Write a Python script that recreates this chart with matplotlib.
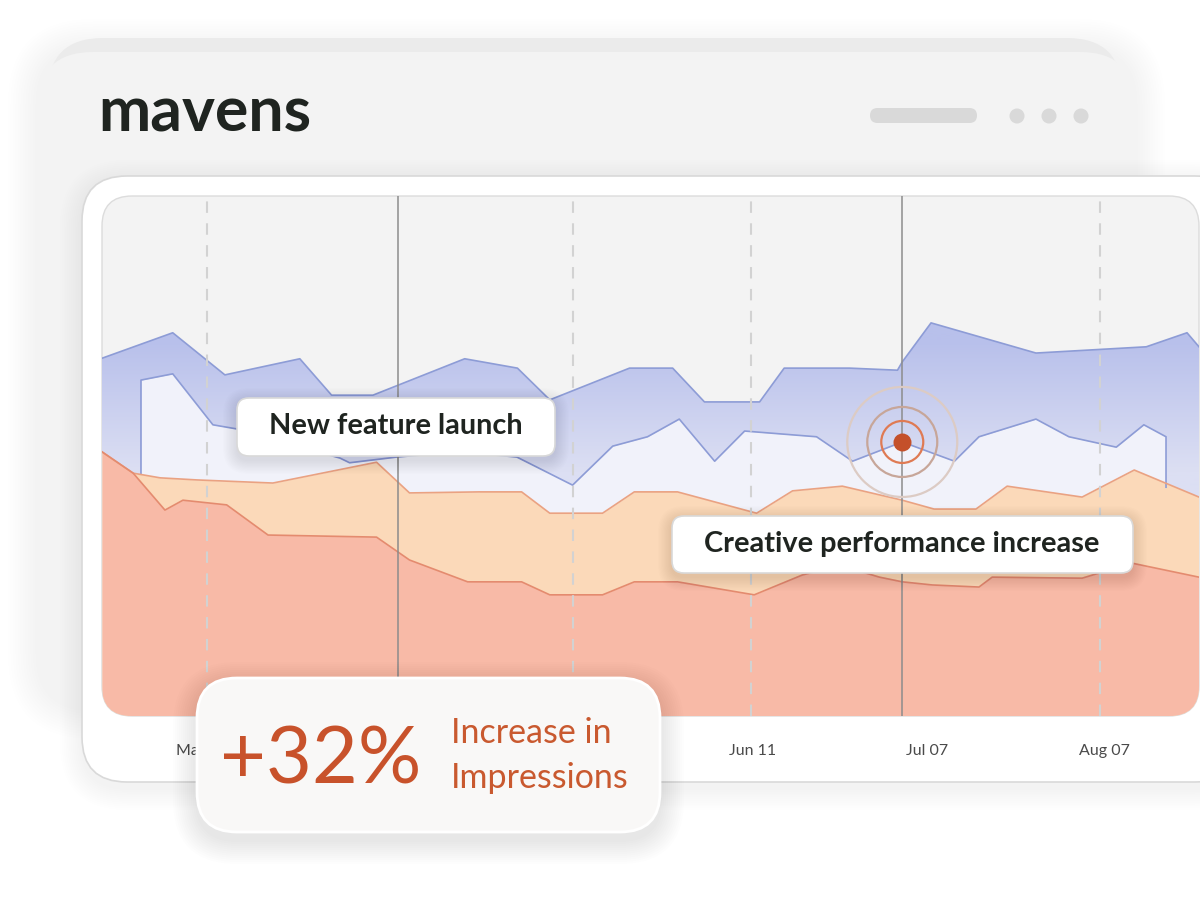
import numpy as np
import matplotlib.pyplot as plt
from matplotlib.patches import FancyBboxPatch, Polygon, Circle
from matplotlib.colors import to_rgb

# ---- data (x = day index, y = impressions index 0-100) ----
upper_x = [0, 11.8, 20.5, 33, 38.3, 45.2, 60.5, 69.3, 74.7, 88, 95.2, 100.5, 109.7,
           113.8, 124.7, 132.7, 133.5, 138.3, 155.8, 174.2, 181, 183]
upper_y = [68.8, 73.7, 65.6, 68.7, 61.7, 61.7, 68.7, 66.9, 60.8, 66.9, 66.9, 60.4, 60.4,
           66.9, 66.9, 66.5, 68.1, 75.6, 69.8, 71.0, 73.7, 71.0]

lower_x = [6.5, 6.5, 11.8, 18.5, 22.5, 31.3, 39.7, 41.3, 49.2, 59.7, 69.2, 78.5, 85.2,
           91, 96.3, 102.2, 107.2, 119.2, 125.2, 133.5, 142.2, 146.3, 155.8, 161.3,
           169.2, 173.8, 177.5, 177.5]
lower_y = [46.7, 64.6, 65.8, 56.0, 55.2, 52.3, 49.6, 48.7, 49.8, 50.8, 49.8, 44.4, 51.9,
           53.7, 57.1, 49.0, 54.8, 53.7, 49.0, 52.7, 49.0, 53.7, 57.1, 53.7,
           51.7, 56.0, 53.7, 44.0]

peach_x = [0, 5.2, 9.7, 15.8, 28.5, 45.8, 51.3, 63, 70, 74.7, 83.5, 88.8, 96, 109.2,
           115.2, 123.5, 133.5, 138.8, 145.8, 151, 163.5, 172.2, 183]
peach_y = [50.8, 46.7, 45.8, 45.4, 44.8, 48.8, 42.9, 43.1, 43.1, 39.0, 39.0, 43.1, 43.1,
           39.0, 43.3, 44.2, 41.5, 39.8, 39.8, 44.2, 42.1, 47.3, 42.1]

salmon_x = [0, 5.2, 10.5, 13.5, 20.8, 27.7, 45.8, 51.3, 61, 70, 74.7, 83.5, 88.8, 96,
            108.8, 116.8, 123, 129.7, 133.5, 138.5, 146.3, 148.5, 163.5, 171.8, 183]
salmon_y = [50.8, 46.7, 39.6, 41.5, 40.6, 34.8, 34.4, 30.0, 25.8, 25.8, 23.3, 23.3, 25.8,
            25.8, 23.3, 27.1, 29.0, 26.7, 25.8, 25.2, 24.8, 26.7, 26.5, 29.4, 26.7]

dashed_days = [17.5, 78.5, 108.2, 166.5]
solid_days = [49.3, 133.5]
tick_days = [16.6, 108.5, 137.7, 167.2]
tick_labels = ['Mar 15', 'Jun 11', 'Jul 07', 'Aug 07']
highlight = (133.5, 52.7)

W, H = 1200, 905
fig = plt.figure(figsize=(12, 9.05), dpi=100, facecolor='white')

bg = fig.add_axes([0, 0, 1, 1], zorder=0)
bg.set_xlim(0, W)
bg.set_ylim(H, 0)
bg.axis('off')


def rbox(a, x0, y0, x1, y1, r, fc, ec='none', lw=0, z=1, alpha=1.0):
    p = FancyBboxPatch((x0, y0), x1 - x0, y1 - y0,
                       boxstyle=f'round,pad=0,rounding_size={r}',
                       fc=fc, ec=ec, lw=lw, zorder=z, alpha=alpha)
    a.add_patch(p)
    return p


def shadow(a, x0, y0, x1, y1, r, spread=20, dy=6, z=0.5, strength=0.06, n=12):
    for i in range(n):
        g = spread * (i + 1) / n
        rbox(a, x0 - g, y0 - g + dy, x1 + g, y1 + g + dy, r + g, fc='#000000',
             z=z, alpha=strength / n)


# back cards
shadow(bg, 38, 45, 1135, 705, 55, spread=30, dy=4, strength=0.04)
rbox(bg, 48, 38, 1122, 690, 55, fc='#ebebeb', z=1)
rbox(bg, 38, 52, 1135, 705, 55, fc='#f3f3f3', z=1.1)
bg.text(98, 131, 'mavens', family=['Lato', 'DejaVu Sans'], fontsize=45,
        fontweight='bold', color='#1f2420', ha='left', va='baseline', zorder=2)
rbox(bg, 870, 108, 977, 123, 7.5, fc='#d9d9d9', z=2)
for cx in (1017, 1049, 1081):
    bg.add_patch(Circle((cx, 116), 7.5, fc='#d9d9d9', ec='none', zorder=2))

# chart card
shadow(bg, 82, 176, 1240, 782, 45, spread=22, dy=6, z=2, strength=0.06)
rbox(bg, 82, 176, 1240, 782, 45, fc='white', ec='#d9d9d9', lw=1.2, z=3)
plot_area = rbox(bg, 102, 196, 1199, 716, 30, fc='#f3f3f3', ec='#dcdcdc', lw=1, z=4)

# ---- chart ----
ax = fig.add_axes([102 / W, 1 - 716 / H, 1097 / W, 520 / H], zorder=1)
ax.patch.set_alpha(0)
for s in ax.spines.values():
    s.set_visible(False)

clipped = []
blue_poly = Polygon(np.column_stack([np.r_[upper_x, peach_x[::-1]],
                                     np.r_[upper_y, peach_y[::-1]]]),
                    closed=True, fc='none', ec='none')
ax.add_patch(blue_poly)
yy = np.linspace(0, 100, 400)
t = np.clip((yy - 47) / (72 - 47), 0, 1)[:, None]
light, dark = np.array(to_rgb('#dcdff3')), np.array(to_rgb('#b8c0eb'))
grad = (light * (1 - t) + dark * t)[:, None, :]
im = ax.imshow(grad, extent=[0, 183, 0, 100], origin='lower', aspect='auto', zorder=1)
im.set_clip_path(blue_poly)

clipped.append(ax.fill_between(lower_x, lower_y, 0, color='#f1f2fa', lw=0, zorder=2))
clipped.append(ax.fill_between(peach_x, peach_y, 0, color='#fbd9b9', lw=0, zorder=3))
clipped.append(ax.fill_between(salmon_x, salmon_y, 0, color='#f8baa7', lw=0, zorder=4))

clipped += ax.plot(upper_x, upper_y, color='#8d9cd6', lw=1.2, zorder=5)
clipped += ax.plot(lower_x, lower_y, color='#8d9cd6', lw=1.2, zorder=5)
clipped += ax.plot(peach_x, peach_y, color='#eaa282', lw=1.2, zorder=5)
clipped += ax.plot(salmon_x, salmon_y, color='#e48b6f', lw=1.2, zorder=5)

for d in dashed_days:
    clipped.append(ax.axvline(d, color='#d2d2d2', lw=1.5, ls=(0, (5.5, 5)), zorder=6))
for d in solid_days:
    clipped.append(ax.axvline(d, color='#8c8c8c', lw=1.1, zorder=6))

for a in clipped:
    a.set_clip_path(plot_area)

hx, hy = highlight
ax.scatter([hx], [hy], s=6273, facecolors='none', edgecolors='#dccbc4', lw=1.6, zorder=7)
ax.scatter([hx], [hy], s=2540, facecolors='none', edgecolors='#c7a699', lw=1.6, zorder=7)
ax.scatter([hx], [hy], s=914, facecolors='none', edgecolors='#df7a53', lw=1.6, zorder=7)
ax.scatter([hx], [hy], s=168, color='#c4502a', lw=0, zorder=8)

ax.set_xlim(0, 183)
ax.set_ylim(0, 100)
ax.set_yticks([])
ax.set_xticks(tick_days, tick_labels)
ax.tick_params(axis='x', length=0, pad=20, labelsize=11.5, labelcolor='#4a4a4a')
for lab in ax.get_xticklabels():
    lab.set_family(['Lato', 'DejaVu Sans'])

# ---- foreground callouts ----
fg = fig.add_axes([0, 0, 1, 1], zorder=3)
fg.set_xlim(0, W)
fg.set_ylim(H, 0)
fg.axis('off')

shadow(fg, 237, 398, 555, 456, 12, spread=14, dy=4, strength=0.08)
rbox(fg, 237, 398, 555, 456, 12, fc='white', ec='#d9d9d9', lw=1.2, z=2)
fg.text(396, 426, 'New feature launch', family=['Lato', 'DejaVu Sans'], fontsize=20.8,
        fontweight='bold', color='#1f2420', ha='center', va='center', zorder=3)

shadow(fg, 672, 516, 1133, 573, 12, spread=14, dy=4, strength=0.08)
rbox(fg, 672, 516, 1133, 573, 12, fc='white', ec='#d9d9d9', lw=1.2, z=2)
fg.text(902, 544, 'Creative performance increase', family=['Lato', 'DejaVu Sans'],
        fontsize=20.8, fontweight='bold', color='#1f2420', ha='center', va='center', zorder=3)

shadow(fg, 197, 678, 660, 832, 40, spread=24, dy=8, strength=0.08)
rbox(fg, 197, 678, 660, 832, 40, fc='#f9f8f7', ec='white', lw=2, z=2)
fg.text(220, 783, '+32%', family=['Lato', 'DejaVu Sans'], fontsize=57, fontweight='normal',
        color='#c8522b', ha='left', va='baseline', zorder=3)
fg.text(451, 743, 'Increase in', family=['Lato', 'DejaVu Sans'], fontsize=24.5,
        fontweight='normal', color='#c9592f', ha='left', va='baseline', zorder=3)
fg.text(451, 788, 'Impressions', family=['Lato', 'DejaVu Sans'], fontsize=24.5,
        fontweight='normal', color='#c9592f', ha='left', va='baseline', zorder=3)

fig.savefig('out.png', dpi=100, facecolor='white')
